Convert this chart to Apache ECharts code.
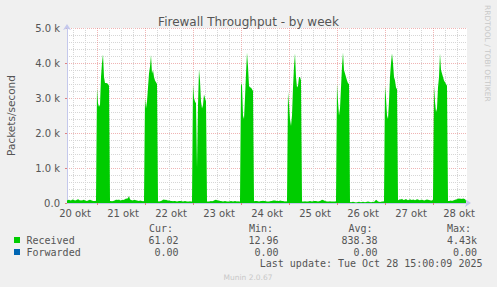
<!DOCTYPE html>
<html><head><meta charset="utf-8">
<script src="https://cdn.jsdelivr.net/npm/echarts@6/dist/echarts.min.js"></script>
<style>html,body{margin:0;padding:0;background:#f0f0f0}#c{width:497px;height:287px}</style>
</head><body><div id="c"></div>
<script>
// x index = half-hours since Oct 20 09:00 (one value per 30 min)
const dayLabels = ['20 okt','21 okt','22 okt','23 okt','24 okt','25 okt','26 okt','27 okt','28 okt'];
const yTickLabels = ['0.0','1.0 k','2.0 k','3.0 k','4.0 k','5.0 k'];

// Received packets/second, half-hourly
const recvOct20 = [70,85,95,80,75,90,100,85,70,80,95,110,90,75,80,70,85,90,75,65,60,75,85,95,80,70,60,55,60,65];
const recvOct21 = [3290,2850,2750,2800,3600,4000,4250,3600,3430,3430,3420,3400,3350,
  60,55,50,55,65,80,95,90,85,100,80,70,90,85,95,110,130,120,140,200,110,85,80,75,95,85,80,70,65,60,70,65,55,50,55];
const recvOct22 = [3000,2700,2900,3300,3700,3900,4230,3700,3800,3600,3500,3450,3400,
  50,45,50,60,70,90,100,85,95,80,75,70,65,60,55,50,55,60,50,45,50,55,60,55,50,45,50,55,50,45,40,45,50,45,40];
const recvOct23 = [3400,3000,2900,2850,1000,2800,3820,3500,2900,2700,2800,3100,3000,2900,
  45,40,45,50,55,50,60,70,85,90,80,75,70,60,55,50,45,50,55,50,45,40,45,50,55,50,45,50,55,50,45,50,45,40];
const recvOct24 = [3430,3350,2500,2400,3000,3700,4300,3900,3350,3300,3300,3250,3200,
  50,55,60,55,50,45,50,55,60,65,60,55,50,45,40,45,50,55,60,70,75,70,65,60,55,60,70,65,60,55,50,45,50,45,3180];
const recvOct25 = [2800,2400,2200,2500,3300,3900,4280,3600,3300,3350,3600,3600,3500,
  45,40,45,50,45,40,45,50,55,50,45,50,55,60,55,50,45,50,60,75,95,85,70,55,50,45,40,45,50,45,40,45,40,45,50];
const recvOct26 = [3420,2900,2500,2700,3300,3900,4300,3800,3700,3600,3500,3420,3400,
  30,25,30,35,30,25,15,25,30,35,30,25,30,35,30,25,30,35,40,35,30,25,30,35,30,60,90,70,40,35,30,35,40,45,50];
const recvOct27 = [3350,3000,2500,2400,2900,3600,4000,4280,4000,3600,3500,3300,3250,
  80,90,110,100,120,95,85,100,115,90,80,95,105,90,85,100,95,80,90,110,100,85,80,90,95,85,75,80,90,100,95,85,80,70,75];
const recvOct28 = [100,3370,2900,2600,2700,3300,3600,4280,3800,3700,3600,3500,3450,3400,3350,
  60,55,65,70,60,75,80,90,100,110,120,130,125,120,115,130,125,110,61];
const forwardedLevel = 0;

const received = [].concat(recvOct20,recvOct21,recvOct22,recvOct23,recvOct24,recvOct25,recvOct26,recvOct27,recvOct28);
const N = 400;            // half-hours shown
const firstMidnight = 30; // Oct 21 00:00
const recvData = received.map((v,i)=>[i,v]);
const fwdData = received.map((v,i)=>[i,forwardedLevel]);

const majorColor = 'rgba(230,130,130,0.6)';
const minorColor = '#d6d6d6';
// vertical grid: every 6 h, red at midnight
const vLines = [];
for (let t = firstMidnight - 24; t < N; t += 12) {
  const major = ((t - firstMidnight) % 48 + 48) % 48 === 0;
  vLines.push({xAxis: t, lineStyle: {color: major ? majorColor : minorColor, type: [1,1], width: 1}});
}
const midnights = [];
for (let t = firstMidnight; t < N; t += 48) midnights.push(t);
const labelPos = dayLabels.map((d,k)=> firstMidnight - 48 + 26 + 48*k);

const mono = 'DejaVu Sans Mono';
const txt = '#555';
function T(text, x, y, align, extra) {
  return Object.assign({type:'text', x:x, y:y, style:{text:text, fill:txt, font:'10px "'+mono+'"', textAlign:align||'left', textVerticalAlign:'middle'}}, extra||{});
}

const chart = echarts.init(document.getElementById('c'), null, {renderer:'svg'});
chart.setOption({
  backgroundColor:'#f0f0f0',
  animation:false,
  title:{text:'Firewall Throughput - by week', left:'center', top:11,
    textStyle:{fontFamily:'DejaVu Sans', fontSize:12, fontWeight:'normal', color:'#555'}},
  grid:{left:67, top:28, width:400, height:175, show:true, backgroundColor:'#ffffff', borderWidth:0,
    containLabel:false, outerBoundsMode:'none'},
  xAxis:{type:'value', min:0, max:N,
    axisLine:{show:true, lineStyle:{color:'#c4c8ec', width:1}, symbol:['none','arrow'], symbolSize:[6,6], symbolOffset:[0,4]},
    axisTick:{show:true, customValues:midnights, length:2, lineStyle:{color:'#e08080'}},
    axisLabel:{customValues:labelPos, formatter:(v)=>dayLabels[Math.round((v-labelPos[0])/48)],
      fontFamily:'DejaVu Sans', fontSize:10, color:txt, margin:5},
    splitLine:{show:false}},
  yAxis:{type:'value', min:0, max:5000, interval:1000,
    name:'Packets/second', nameLocation:'middle', nameGap:51, nameRotate:90,
    nameTextStyle:{fontFamily:'DejaVu Sans', fontSize:10.5, color:txt},
    axisLine:{show:true, lineStyle:{color:'#c4c8ec'}, symbol:['none','arrow'], symbolSize:[6,6], symbolOffset:[0,4]},
    axisTick:{show:true, length:2, lineStyle:{color:'#e08080'}},
    axisLabel:{formatter:(v)=>yTickLabels[Math.round(v/1000)], fontFamily:'DejaVu Sans', fontSize:10, color:txt, margin:7},
    splitLine:{show:true, lineStyle:{color:majorColor, type:[1,1]}},
    minorTick:{show:false, splitNumber:5},
    minorSplitLine:{show:true, lineStyle:{color:minorColor, type:[1,1]}}},
  series:[
    {name:'Forwarded', type:'line', data:fwdData, showSymbol:false, z:1,
      lineStyle:{width:0, color:'#0066b3'},
      markLine:{silent:true, symbol:'none', z:1, animation:false, label:{show:false}, emphasis:{disabled:true}, data:vLines}},
    {name:'Received', type:'line', data:recvData, showSymbol:false, z:3,
      lineStyle:{width:0, color:'#00cc00'}, areaStyle:{color:'#00cc00', opacity:1}}
  ],
  graphic:[
    {type:'text', x:487, y:5, rotation:-Math.PI/2, style:{text:'RRDTOOL / TOBI OETIKER', fill:'#c8c8c8', font:'7.5px "DejaVu Sans"', textAlign:'left', textVerticalAlign:'middle'}},
    {type:'rect', shape:{x:14, y:237, width:6, height:6}, style:{fill:'#00cc00'}},
    {type:'rect', shape:{x:14, y:249, width:6, height:6}, style:{fill:'#0066b3'}},
    T('Received', 26.5, 240),
    T('Forwarded', 26.5, 252),
    T('Cur:', 149, 228), T('Min:', 249, 228), T('Avg:', 348.5, 228), T('Max:', 447, 228),
    T('61.02', 178.5, 240, 'right'), T('12.96', 278.5, 240, 'right'), T('838.38', 377.5, 240, 'right'), T('4.43k', 477, 240, 'right'),
    T('0.00', 178.5, 252, 'right'), T('0.00', 278.5, 252, 'right'), T('0.00', 377.5, 252, 'right'), T('0.00', 477, 252, 'right'),
    T('Last update: Tue Oct 28 15:00:09 2025', 482.5, 263.5, 'right'),
    {type:'text', x:248, y:277, style:{text:'Munin 2.0.67', fill:'#c8c8c8', font:'7.5px "DejaVu Sans"', textAlign:'center', textVerticalAlign:'middle'}}
  ]
});
</script></body></html>
